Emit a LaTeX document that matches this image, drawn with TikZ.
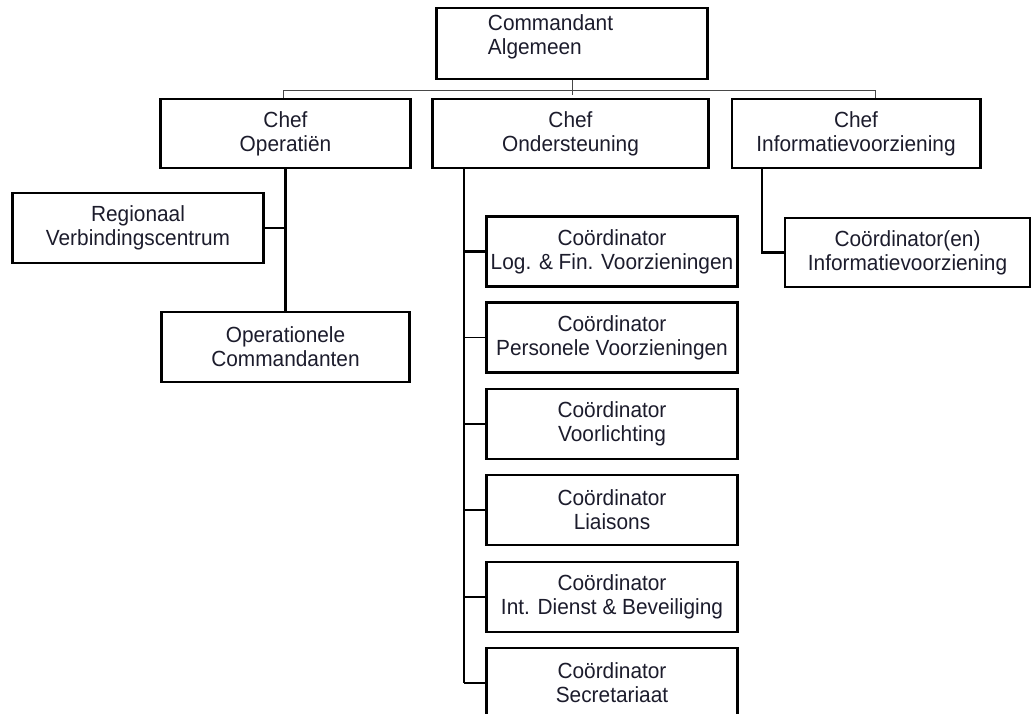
\documentclass[tikz,border=0pt]{standalone}
\usepackage{fontspec}
\setmainfont{Liberation Sans}[FakeStretch=0.95]
\usepackage{xcolor}
\usepackage{tikz}
\definecolor{ink}{RGB}{28,28,44}
\definecolor{wire}{RGB}{72,72,72}

\begin{document}
\begin{tikzpicture}[
    x=0.025cm, y=-0.025cm,
    unit/.style={rectangle, draw, line width=2.1pt, text=ink, align=center, inner sep=0pt, minimum height=1.75cm, font=\fontsize{15.6pt}{17.2pt}\selectfont},
    coord/.style={unit, minimum width=6.25cm},
    bus/.style={draw=wire, line width=0.7pt},
    heavy/.style={line width=2pt},
    light/.style={line width=0.8pt}
]
\useasboundingbox (0,0) rectangle (1031,714);
\clip (0,0) rectangle (1031,714);

% Nodes
\node[unit, minimum width=6.75cm, minimum height=1.775cm, text width=4.2cm, align=left, text depth=1.05cm] (cmd) at (572,43.5) {Commandant\\Algemeen};
\node[unit, minimum width=6.225cm, minimum height=1.725cm] (chefOps) at (285.5,133.5) {Chef\\Operatiën};
\node[unit, minimum width=6.875cm, minimum height=1.725cm] (chefOnd) at (570.5,133.5) {Chef\\Ondersteuning};
\node[unit, minimum width=6.2cm, minimum height=1.725cm] (chefInfo) at (856,133.5) {Chef\\Informatievoorziening};
\node[unit, minimum width=6.25cm] (regio) at (138,228) {Regionaal\\Verbindingscentrum};
\node[unit, minimum width=6.2cm] (opsCmd) at (285.5,347) {Operationele\\Commandanten};
\node[unit, minimum width=6.125cm, minimum height=1.725cm] (infoCo) at (907.5,252.5) {Coördinator(en)\\Informatievoorziening};
\node[coord] (c1) at (612,251.5) {Coördinator\\Log. \& Fin. Voorzieningen};
\node[coord] (c2) at (612,337.5) {Coördinator\\Personele Voorzieningen};
\node[coord] (c3) at (612,424) {Coördinator\\Voorlichting};
\node[coord] (c4) at (612,510) {Coördinator\\Liaisons};
\node[coord] (c5) at (612,597) {Coördinator\\Int. Dienst \& Beveiliging};
\node[coord] (c6) at (612,683) {Coördinator\\Secretariaat};

% Top level
\coordinate (busL) at (283,90);
\coordinate (busR) at (875,90);
\draw[bus] (cmd.south) -- ++(0,15);
\draw[bus] (busL |- chefOps.north) -- (busL) -- (busR) -- (busR |- chefInfo.north);

% Operaties
\draw[line width=2.2pt] (chefOps.south) -- (opsCmd.north);
\draw[line width=1.4pt] (regio.east) -- (regio.east -| chefOps.south);

% Ondersteuning
\coordinate (ondX) at (464,0);
\draw[line width=1.2pt] (ondX |- chefOnd.south) -- (ondX |- c6.west);
\draw[heavy] (c1.west) -- (c1.west -| ondX);
\draw[light] (c2.west) -- (c2.west -| ondX);
\draw[heavy] (c3.west) -- (c3.west -| ondX);
\draw[light] (c4.west) -- (c4.west -| ondX);
\draw[heavy] (c5.west) -- (c5.west -| ondX);
\draw[light] (c6.west) -- (c6.west -| ondX);

% Informatievoorziening
\coordinate (infoX) at (762,0);
\draw[heavy] (infoX |- chefInfo.south) |- (infoCo.west);

\end{tikzpicture}
\end{document}
